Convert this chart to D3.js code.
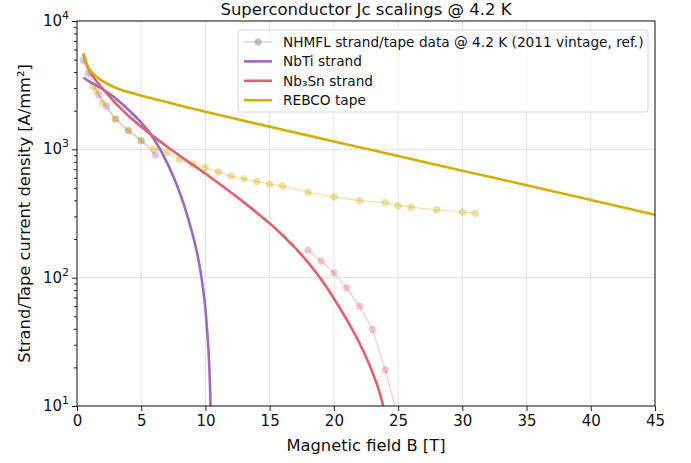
<!DOCTYPE html>
<html>
<head>
<meta charset="utf-8">
<script src="https://cdn.jsdelivr.net/npm/d3@7"></script>
<style>
body { margin: 0; background: #fff; }
text { font-family: "DejaVu Sans", sans-serif; fill: #111; }
</style>
</head>
<body>
<script>
// fitted scaling curves
var rebcoB = [0.5, 0.75, 1, 1.5, 2, 3, 4, 5, 6, 8, 10, 12, 15, 20, 25, 30, 35, 40, 45],
    rebcoJ = [5445, 4603, 4150, 3698, 3396, 3020, 2793, 2618, 2472, 2198, 1963, 1762, 1500, 1153, 887, 682, 525, 403, 309];

var nbtiB = [0.5, 1, 1.5, 2, 3, 4, 5, 6, 7, 7.5, 8, 8.5, 9, 9.3, 9.6, 9.8, 10, 10.1, 10.2, 10.3, 10.4, 10.45],
    nbtiJ = [3631, 3357, 3148, 2938, 2500, 2032, 1614, 1197, 791, 614, 460, 326, 218, 164, 115, 84, 57, 43, 31, 20.4, 9.5, 4.5];

var nb3snB = [0.5, 0.75, 1, 1.5, 2, 3, 4, 5, 6, 7, 8, 9, 10, 11, 12, 13, 14, 15, 16, 17, 18, 19, 20, 21, 22, 23, 23.5, 24, 24.3],
    nb3snJ = [5560, 4624, 4055, 3412, 2965, 2291, 1828, 1500, 1250, 1052, 891, 759, 646, 547, 461, 386, 321, 265, 214, 170, 131, 97.3, 68.9, 47.1, 30.8, 18.3, 13.3, 8.6, 6];

// NHMFL measured points
var nbtiDataB = [0.5, 0.9, 1.7, 2.3, 3, 4, 5, 6.1],
    nbtiDataJ = [4950, 3900, 2650, 2170, 1720, 1400, 1170, 905];
var rebcoDataB = [1.25, 1.5, 2, 3, 4, 5, 6, 7, 8, 9, 10, 11, 12, 13, 14, 15, 16, 18, 20, 22, 24, 25, 26, 28, 30, 31],
    rebcoDataJ = [3100, 2850, 2300, 1720, 1400, 1170, 1000, 940, 836, 765, 720, 665, 618, 589, 561, 535, 516, 462, 426, 398, 384, 364, 354, 338, 325, 317];
var nb3snDataB = [18, 19, 20, 21, 22, 23, 24, 25],
    nb3snDataJ = [164, 135, 109, 83, 60, 39.5, 19.1, 8];

var xTicks = [0, 5, 10, 15, 20, 25, 30, 35, 40, 45],
    yTicks = [10, 100, 1000, 10000];

var purple = "#9e68bb", red = "#e0616d", gold = "#d4ad06";

var width = 691, height = 463,
    margin = {top: 21, right: 36, bottom: 57, left: 77},
    w = width - margin.left - margin.right,
    h = height - margin.top - margin.bottom;

var svg = d3.select("body").append("svg")
    .attr("width", width)
    .attr("height", height);

var g = svg.append("g")
    .attr("transform", "translate(" + [margin.left, margin.top] + ")");

var x = d3.scaleLinear().domain([0, 45]).range([0, w]),
    y = d3.scaleLog().domain([10, 10000]).range([h, 0]);

svg.append("defs").append("clipPath").attr("id", "clip")
  .append("rect").attr("width", w).attr("height", h);

// grid
g.append("g").selectAll("line").data(xTicks.slice(1, -1)).enter().append("line")
    .attr("x1", x).attr("x2", x).attr("y1", 0).attr("y2", h)
    .attr("stroke", "#e3e3e3").attr("stroke-width", 1);
g.append("g").selectAll("line").data(yTicks.slice(1, -1)).enter().append("line")
    .attr("y1", y).attr("y2", y).attr("x1", 0).attr("x2", w)
    .attr("stroke", "#e3e3e3").attr("stroke-width", 1);

var plot = g.append("g").attr("clip-path", "url(#clip)");

var line = d3.line()
    .x(function(d) { return x(d[0]); })
    .y(function(d) { return y(d[1]); });
var smooth = d3.line()
    .curve(d3.curveMonotoneX)
    .x(function(d) { return x(d[0]); })
    .y(function(d) { return y(d[1]); });

function pairs(a, b) { return a.map(function(v, i) { return [v, b[i]]; }); }

var measured = [
    {pts: pairs(nbtiDataB, nbtiDataJ), color: purple},
    {pts: pairs(rebcoDataB, rebcoDataJ), color: gold},
    {pts: pairs(nb3snDataB, nb3snDataJ), color: red}
];

measured.forEach(function(s) {
    plot.append("path")
        .attr("d", line(s.pts))
        .attr("fill", "none")
        .attr("stroke", s.color)
        .attr("stroke-opacity", 0.35)
        .attr("stroke-width", 1.2);
    plot.append("g").selectAll("circle").data(s.pts).enter().append("circle")
        .attr("cx", function(d) { return x(d[0]); })
        .attr("cy", function(d) { return y(d[1]); })
        .attr("r", 3.7)
        .attr("fill", s.color)
        .attr("fill-opacity", 0.36);
});

var curves = [
    {pts: pairs(nbtiB, nbtiJ), color: purple, name: "NbTi strand"},
    {pts: pairs(nb3snB, nb3snJ), color: red, name: "Nb₃Sn strand"},
    {pts: pairs(rebcoB, rebcoJ), color: gold, name: "REBCO tape"}
];

curves.forEach(function(s) {
    plot.append("path")
        .attr("d", smooth(s.pts))
        .attr("fill", "none")
        .attr("stroke", s.color)
        .attr("stroke-width", 2.6);
});

// axes
var xAxis = g.append("g")
    .attr("transform", "translate(0," + h + ")")
    .call(d3.axisBottom(x).tickValues(xTicks).tickSize(5).tickPadding(4));
var yMinor = [];
[10, 100, 1000].forEach(function(d) {
    for (var k = 2; k < 10; k++) yMinor.push(d * k);
});
var yAxis = g.append("g")
    .call(d3.axisLeft(y).tickValues(yMinor).tickSize(3).tickFormat(""));
var yMajor = g.append("g")
    .call(d3.axisLeft(y).tickValues(yTicks).tickSize(5).tickFormat(""));

[xAxis, yAxis, yMajor].forEach(function(a) {
    a.select(".domain").remove();
    a.selectAll("line").attr("stroke", "#222").attr("stroke-width", 1);
});
xAxis.selectAll("text")
    .attr("font-size", 15)
    .attr("font-family", "DejaVu Sans")
    .attr("fill", "#111");

var ylab = g.append("g").selectAll("text").data(yTicks).enter().append("text")
    .attr("x", -8)
    .attr("y", function(d) { return y(d) + 5; })
    .attr("text-anchor", "end")
    .attr("font-size", 15);
ylab.append("tspan").text("10");
ylab.append("tspan")
    .attr("dy", -7)
    .attr("font-size", 11)
    .text(function(d) { return Math.round(Math.log10(d)); });

// frame
g.append("rect")
    .attr("width", w).attr("height", h)
    .attr("fill", "none")
    .attr("stroke", "#222")
    .attr("stroke-width", 1.1);

// titles
svg.append("text")
    .attr("x", margin.left + w / 2)
    .attr("y", 15)
    .attr("text-anchor", "middle")
    .attr("font-size", 16.5)
    .text("Superconductor Jc scalings @ 4.2 K");
svg.append("text")
    .attr("x", margin.left + w / 2)
    .attr("y", 451)
    .attr("text-anchor", "middle")
    .attr("font-size", 16.3)
    .text("Magnetic field B [T]");
svg.append("text")
    .attr("transform", "translate(30," + (margin.top + h / 2) + ") rotate(-90)")
    .attr("text-anchor", "middle")
    .attr("font-size", 16.3)
    .text("Strand/Tape current density [A/mm²]");

// legend
var lg = svg.append("g").attr("transform", "translate(238,30)");
lg.append("rect")
    .attr("width", 410).attr("height", 82)
    .attr("rx", 3)
    .attr("fill", "#fff").attr("fill-opacity", 0.8)
    .attr("stroke", "#d6d6d6");
var entries = [{name: "NHMFL strand/tape data @ 4.2 K (2011 vintage, ref.)", color: "#999", marker: true}]
    .concat(curves);
var le = lg.selectAll("g.entry").data(entries).enter().append("g")
    .attr("transform", function(d, i) { return "translate(0," + (12 + i * 19.4) + ")"; });
le.append("line")
    .attr("x1", 6).attr("x2", 34)
    .attr("stroke", function(d) { return d.color; })
    .attr("stroke-opacity", function(d) { return d.marker ? 0.5 : 1; })
    .attr("stroke-width", function(d) { return d.marker ? 1.2 : 2.6; });
le.filter(function(d) { return d.marker; }).append("circle")
    .attr("cx", 20).attr("r", 3.6)
    .attr("fill", "#999").attr("fill-opacity", 0.6);
le.append("text")
    .attr("x", 45)
    .attr("y", 5)
    .attr("font-size", 13.7)
    .text(function(d) { return d.name; });
</script>
</body>
</html>
